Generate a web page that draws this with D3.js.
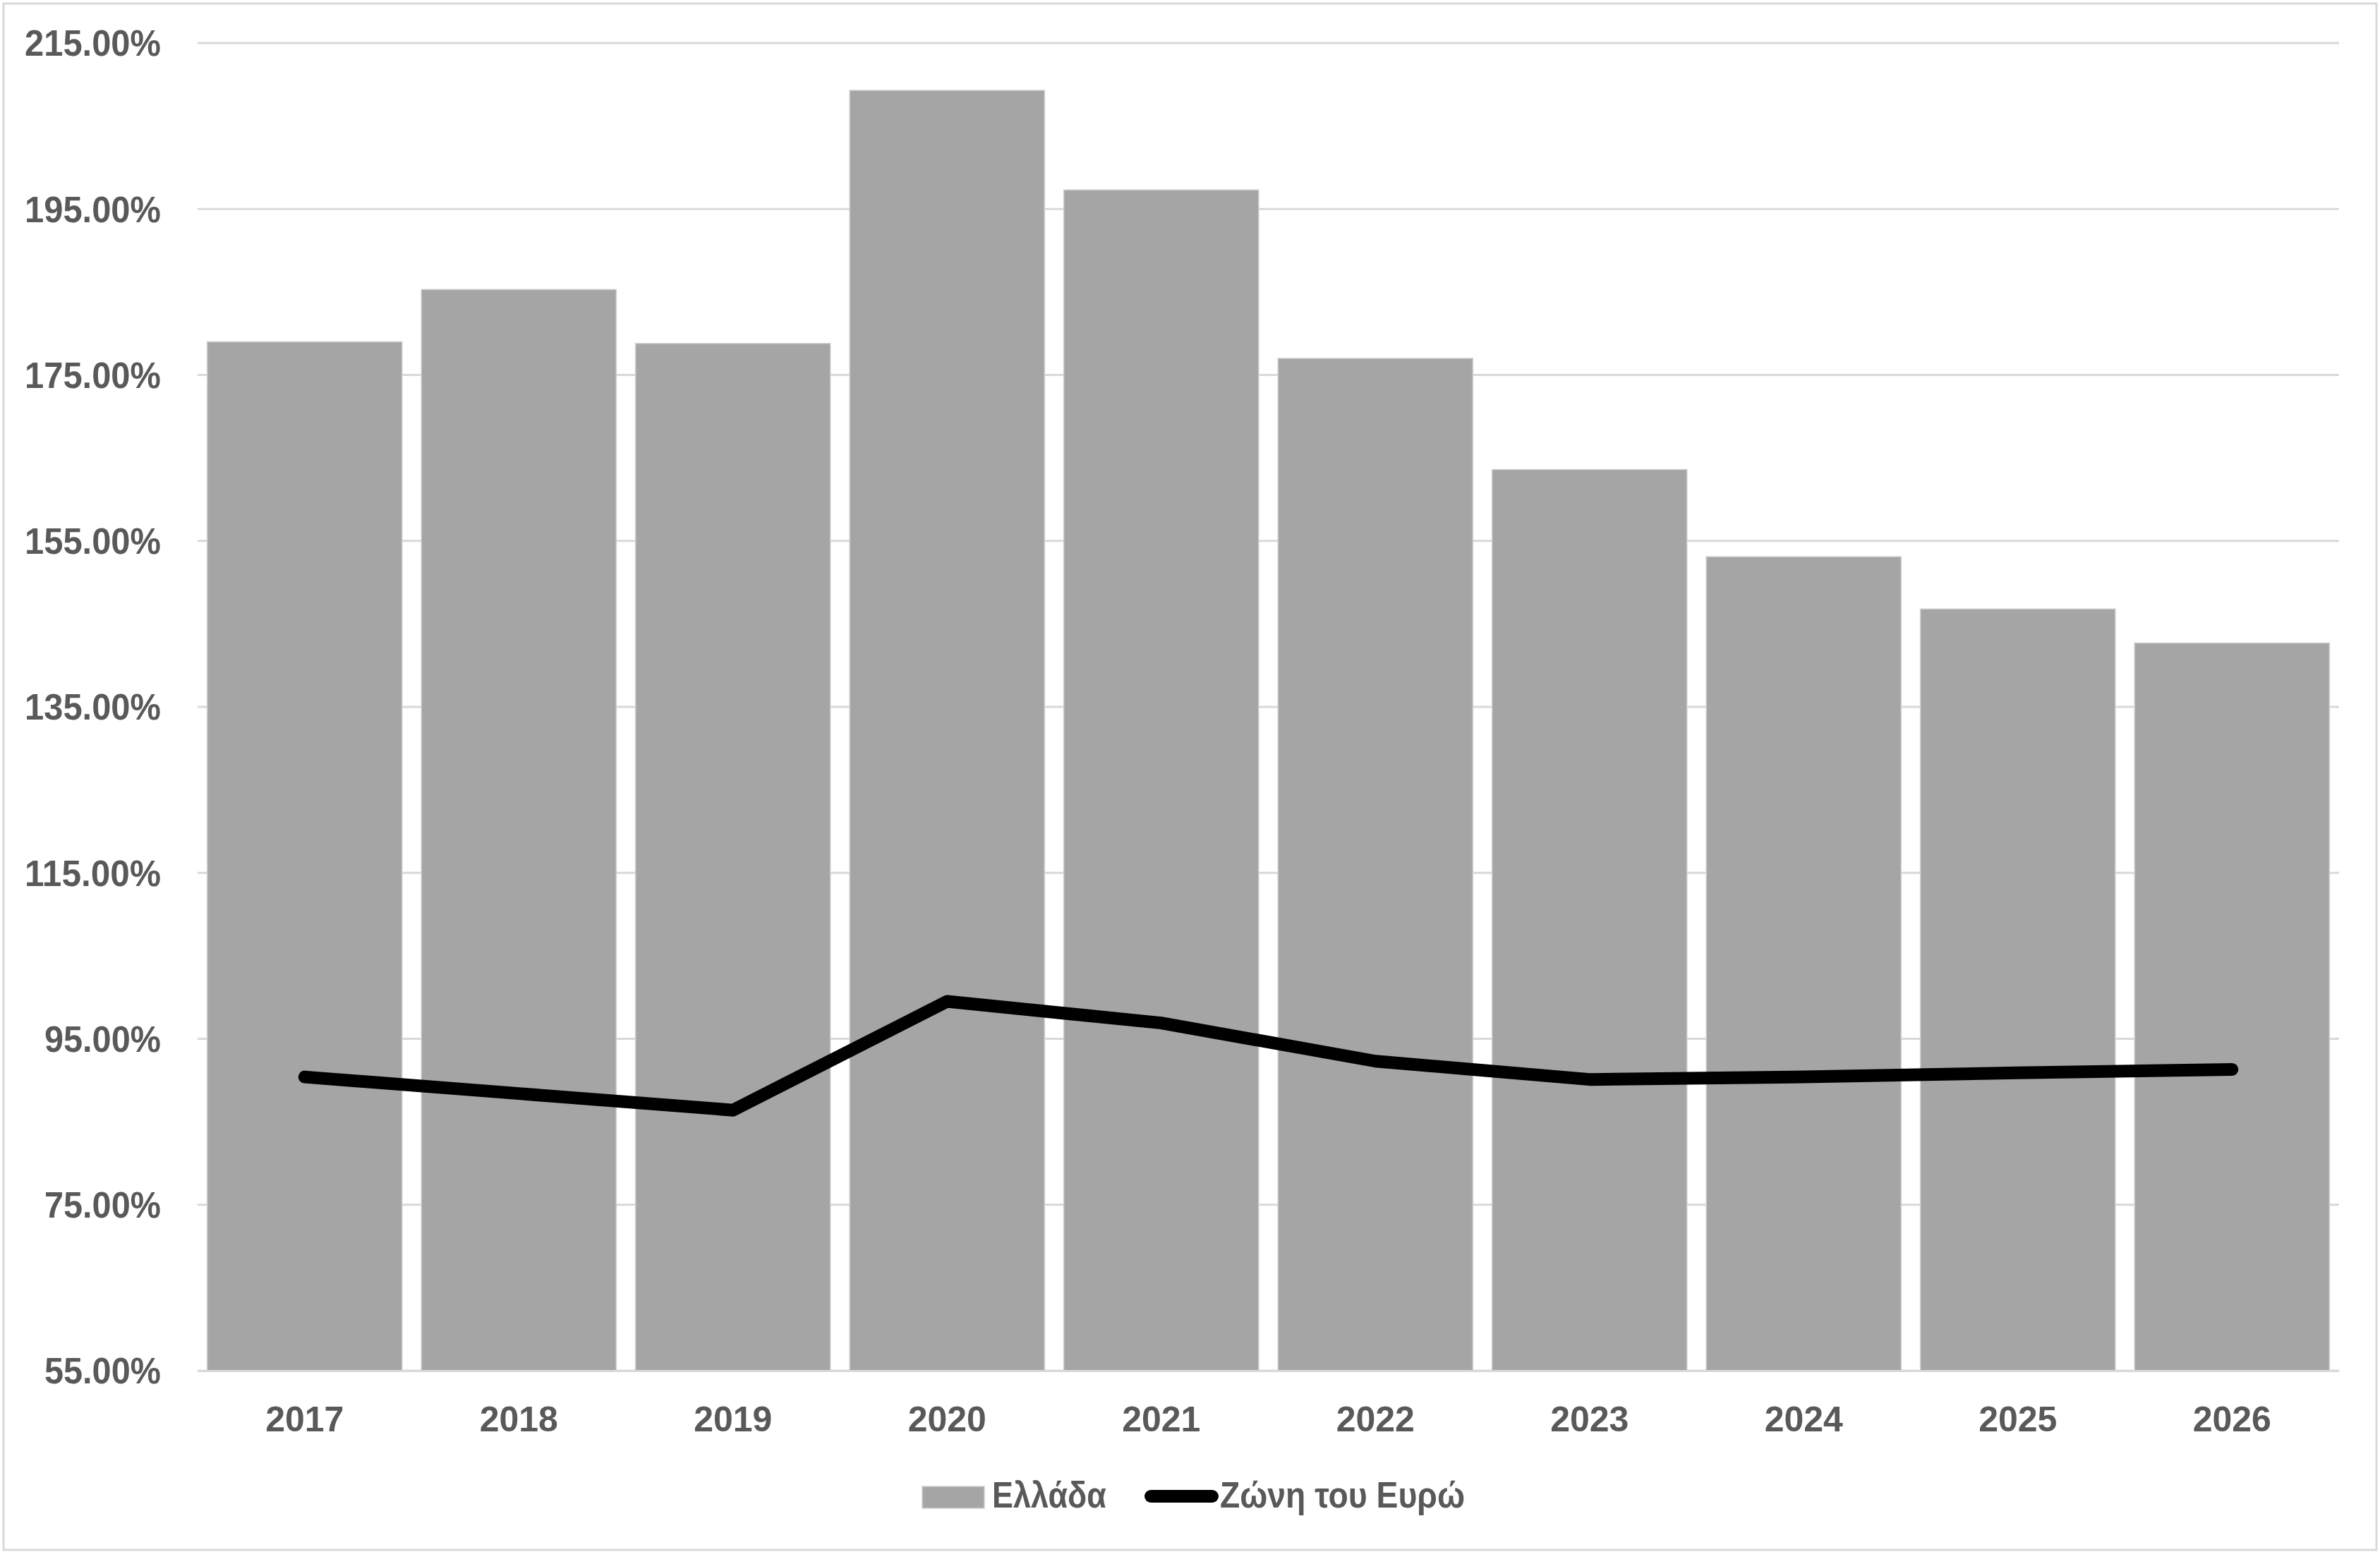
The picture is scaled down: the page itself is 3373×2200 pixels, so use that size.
<!DOCTYPE html>
<html>
<head>
<meta charset="utf-8">
<script src="https://cdn.jsdelivr.net/npm/d3@7"></script>
<style>
  html, body { margin: 0; padding: 0; background: #fff; }
  svg { display: block; }
</style>
</head>
<body>
<svg id="chart" width="3373" height="2200"></svg>
<script>
const years = ["2017","2018","2019","2020","2021","2022","2023","2024","2025","2026"];
const greece = [179.0, 185.3, 178.8, 209.3, 197.3, 177.0, 163.6, 153.1, 146.8, 142.7];
const eurozone = [90.4, 88.4, 86.4, 99.5, 96.9, 92.3, 90.1, 90.4, 90.9, 91.3];
const yTicks = [55, 75, 95, 115, 135, 155, 175, 195, 215];
const seriesNames = ["Ελλάδα", "Ζώνη του Ευρώ"];

(function () {
const svg = d3.select("#chart");
const W = 3373, H = 2200;
const pLeft = 280, pRight = 3315, pTop = 61, pBottom = 1943;
const textColor = "#595959";
const font = "'Liberation Sans', Arial, sans-serif";

svg.append("rect").attr("x", 5).attr("y", 5).attr("width", W - 10).attr("height", H - 8)
  .attr("fill", "#fff").attr("stroke", "#d9d9d9").attr("stroke-width", 3);

const x = d3.scaleBand().domain(years).range([pLeft, pRight]).paddingInner(0.09).paddingOuter(0.045);
const y = d3.scaleLinear().domain([55, 215]).range([pBottom, pTop]);

// gridlines
svg.append("g").selectAll("line").data(yTicks).join("line")
  .attr("x1", pLeft).attr("x2", pRight)
  .attr("y1", d => y(d)).attr("y2", d => y(d))
  .attr("stroke", "#d9d9d9").attr("stroke-width", 3);

// y axis
const yAxis = svg.append("g").attr("transform", `translate(${pLeft},0)`)
  .call(d3.axisLeft(y).tickValues(yTicks).tickSize(0).tickPadding(52).tickFormat(d => d.toFixed(2) + "%"));
yAxis.select(".domain").remove();
yAxis.selectAll("text").attr("fill", textColor).attr("font-family", font)
  .attr("font-weight", "bold").attr("font-size", 51).attr("dy", "0.35em")
  .attr("textLength", d => d >= 100 ? 193 : 165).attr("lengthAdjust", "spacingAndGlyphs");

// bars
svg.append("g").selectAll("rect").data(greece).join("rect")
  .attr("x", (d, i) => x(years[i]))
  .attr("width", x.bandwidth())
  .attr("y", d => y(d))
  .attr("height", d => y(55) - y(d))
  .attr("fill", "#a5a5a5")
  .attr("stroke", "#d0d0d0").attr("stroke-width", 1.5);

// x axis
const xAxis = svg.append("g").attr("transform", `translate(0,${pBottom})`)
  .call(d3.axisBottom(x).tickSize(0).tickPadding(50));
xAxis.select(".domain").attr("stroke", "#d9d9d9").attr("stroke-width", 3);
xAxis.selectAll("text").attr("fill", textColor).attr("font-family", font)
  .attr("font-weight", "bold").attr("font-size", 50).attr("dy", "0.71em");

// line
const line = d3.line().x((d, i) => x(years[i]) + x.bandwidth() / 2).y(d => y(d));
svg.append("path").datum(eurozone).attr("d", line)
  .attr("fill", "none").attr("stroke", "#000").attr("stroke-width", 18)
  .attr("stroke-linecap", "round").attr("stroke-linejoin", "round");

// legend
const lg = svg.append("g");
lg.append("rect").attr("x", 1307).attr("y", 2107).attr("width", 88).attr("height", 31)
  .attr("fill", "#a5a5a5").attr("stroke", "#d0d0d0").attr("stroke-width", 1.5);
lg.append("text").attr("x", 1406).attr("y", 2137).text(seriesNames[0])
  .attr("fill", textColor).attr("font-family", font)
  .attr("font-weight", "bold").attr("font-size", 52)
  .attr("textLength", 162).attr("lengthAdjust", "spacingAndGlyphs");
lg.append("line").attr("x1", 1631).attr("x2", 1718).attr("y1", 2121).attr("y2", 2121)
  .attr("stroke", "#000").attr("stroke-width", 18).attr("stroke-linecap", "round");
lg.append("text").attr("x", 1729).attr("y", 2137).text(seriesNames[1])
  .attr("fill", textColor).attr("font-family", font)
  .attr("font-weight", "bold").attr("font-size", 52)
  .attr("textLength", 347).attr("lengthAdjust", "spacingAndGlyphs");
})();
</script>
</body>
</html>
